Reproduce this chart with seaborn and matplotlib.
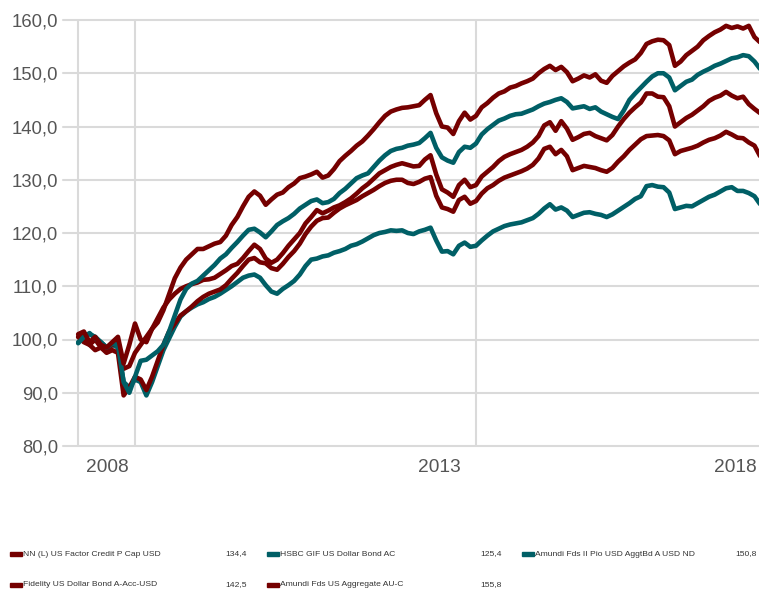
import numpy as np
import pandas as pd
import matplotlib.pyplot as plt
import seaborn as sns
from matplotlib.patches import Rectangle

# Fondos: valores base 100, muestreo mensual desde marzo 2007
start_month = "2007-03-01"

amundi_us_agg = [
    101, 101.5, 99.5, 100.5, 99, 98.5, 99.5, 100.5, 95.5, 99,
    103, 100, 99.5, 102, 103.2, 105.5, 108.5, 111.5, 113.5, 115,
    116, 117, 117, 117.5, 118, 118.3, 119.5, 121.5, 123, 125,
    126.8, 127.8, 127, 125.3, 126.3, 127.2, 127.6, 128.6, 129.3, 130.3,
    130.6, 131, 131.5, 130.4, 130.8, 132, 133.5, 134.5, 135.4, 136.4,
    137.2, 138.3, 139.5, 140.8, 142, 142.8, 143.2, 143.5, 143.6, 143.8,
    144, 145, 145.9, 142.5, 140, 139.8, 138.6, 141, 142.6, 141.3,
    142, 143.6, 144.4, 145.4, 146.2, 146.6, 147.3, 147.6, 148.1, 148.5,
    149, 150, 150.8, 151.4, 150.6, 151.2, 150.2, 148.5, 149, 149.6,
    149.2, 149.8, 148.6, 148.2, 149.5, 150.4, 151.3, 152, 152.6, 153.8,
    155.5, 156, 156.3, 156.2, 155.3, 151.4, 152.2, 153.4, 154.2, 155,
    156.2, 157, 157.7, 158.2, 158.9, 158.5, 158.8, 158.4, 158.9, 156.8,
    155.8,
]

amundi_ii = [
    99.3, 100.5, 101.2, 100.2, 99.5, 98.5, 99.2, 99, 92, 90,
    93, 96, 96.2, 97, 97.8, 99, 101.5, 104.5, 107.5, 109.5,
    110.5, 111, 112, 113, 114, 115.2, 116, 117.2, 118.3, 119.5,
    120.6, 120.8, 120.1, 119.2, 120.3, 121.5, 122.2, 122.8, 123.6, 124.6,
    125.3, 126, 126.3, 125.6, 125.8, 126.4, 127.5, 128.3, 129.3, 130.3,
    130.8, 131.2, 132.4, 133.6, 134.6, 135.4, 135.8, 136, 136.4, 136.6,
    136.9, 137.8, 138.8, 136, 134.2, 133.6, 133.2, 135.2, 136.2, 136,
    136.8, 138.5, 139.5, 140.3, 141.1, 141.5, 142, 142.3, 142.4, 142.8,
    143.2, 143.8, 144.3, 144.6, 145, 145.3, 144.6, 143.4, 143.6, 143.8,
    143.3, 143.6, 142.8, 142.3, 141.8, 141.4, 143, 145, 146.2, 147.3,
    148.4, 149.4, 150, 150, 149.2, 146.8, 147.6, 148.4, 148.8, 149.7,
    150.3, 150.8, 151.4, 151.8, 152.3, 152.8, 153, 153.4, 153.2, 152.2,
    150.8,
]

fidelity = [
    100.5, 101, 99, 100, 98.5, 98, 99, 99.5, 94.5, 95,
    97.5, 99, 100.5, 102, 104, 106, 107.5, 108.6, 109.5, 110,
    110.4, 110.7, 111.2, 111.3, 111.6, 112.3, 113, 113.8, 114.2, 115.3,
    116.6, 117.8, 117, 115.2, 114.4, 115, 116.2, 117.6, 118.8, 120,
    121.8, 123, 124.3, 123.7, 124.2, 124.8, 125.2, 125.8, 126.5, 127.4,
    128.4, 129.2, 130.2, 131.2, 131.8, 132.4, 132.8, 133.1, 132.8, 132.5,
    132.6, 133.8, 134.6, 131, 128.2, 127.6, 126.8, 129, 130, 128.6,
    129, 130.6, 131.5, 132.4, 133.5, 134.3, 134.8, 135.2, 135.6, 136.2,
    137, 138.2, 140.2, 140.8, 139.2, 141, 139.6, 137.5, 138, 138.6,
    138.8, 138.2, 137.8, 137.4, 138.4, 140, 141.4, 142.6, 143.6, 144.5,
    146.2, 146.2, 145.6, 145.5, 143.8, 140, 140.8, 141.6, 142.2, 143,
    143.8, 144.8, 145.4, 145.8, 146.5, 145.8, 145.3, 145.6, 144.2, 143.3,
    142.5,
]

nn_credit = [
    100.5, 99.5, 99, 98, 98.5, 97.5, 98, 97.5, 89.5, 91,
    93, 92.5, 90.5, 93, 96, 99, 101.5, 103, 104.5, 105.3,
    106.2, 107.2, 108, 108.6, 109, 109.4, 110.2, 111.4, 112.5, 113.8,
    115, 115.3, 114.5, 114.3, 113.4, 113.1, 114.2, 115.5, 116.6, 118,
    119.8, 121.2, 122.3, 122.8, 122.9, 123.8, 124.6, 125.2, 125.7, 126.2,
    126.9, 127.5, 128.1, 128.8, 129.4, 129.8, 130, 130, 129.4, 129.2,
    129.6, 130.2, 130.5, 127, 124.8, 124.5, 124, 126.2, 126.8, 125.5,
    126, 127.4, 128.4, 129, 129.8, 130.4, 130.8, 131.2, 131.6, 132.1,
    132.8, 134, 135.8, 136.2, 134.8, 135.6, 134.4, 131.8, 132.2, 132.6,
    132.4, 132.2, 131.8, 131.5, 132.2, 133.4, 134.4, 135.6, 136.6, 137.6,
    138.2, 138.3, 138.4, 138.2, 137.4, 134.8, 135.4, 135.7, 136, 136.4,
    137, 137.5, 137.8, 138.3, 139, 138.5, 137.9, 137.8, 137, 136.4,
    134.4,
]

hsbc = [
    99.5, 100.5, 101, 100.5, 99.5, 98.5, 99, 98.5, 92, 91,
    92.5, 92, 89.5, 92, 95, 98, 100.2, 102.4, 104.3, 105.3,
    106, 106.6, 107, 107.6, 108, 108.6, 109.3, 110, 110.8, 111.6,
    112, 112.2, 111.6, 110.2, 109, 108.6, 109.5, 110.2, 111, 112.2,
    113.8, 115, 115.2, 115.6, 115.8, 116.3, 116.6, 117, 117.6, 117.9,
    118.4, 119, 119.6, 120, 120.2, 120.5, 120.4, 120.5, 120, 119.8,
    120.3, 120.6, 121, 118.6, 116.5, 116.6, 116, 117.6, 118.2, 117.4,
    117.6, 118.6, 119.5, 120.3, 120.8, 121.3, 121.6, 121.8, 122, 122.4,
    122.8, 123.6, 124.6, 125.4, 124.4, 124.8, 124.2, 123, 123.4, 123.8,
    123.9, 123.6, 123.4, 123, 123.5, 124.2, 124.9, 125.6, 126.4, 126.9,
    128.8, 129, 128.7, 128.6, 127.6, 124.5, 124.8, 125.1, 125, 125.6,
    126.2, 126.8, 127.2, 127.8, 128.4, 128.6, 127.9, 127.9, 127.5, 126.9,
    125.4,
]

red = "#750000"
teal = "#005f66"

series = {
    "NN (L) US Factor Credit P Cap USD": (nn_credit, red),
    "HSBC GIF US Dollar Bond AC": (hsbc, teal),
    "Amundi Fds II Pio USD AggtBd A USD ND": (amundi_ii, teal),
    "Fidelity US Dollar Bond A-Acc-USD": (fidelity, red),
    "Amundi Fds US Aggregate AU-C": (amundi_us_agg, red),
}
legend_values = ["134,4", "125,4", "150,8", "142,5", "155,8"]

yticks = [80, 90, 100, 110, 120, 130, 140, 150, 160]
ytick_labels = ["80,0", "90,0", "100,0", "110,0", "120,0", "130,0", "140,0", "150,0", "160,0"]
xgrid_pos = [2007 + 2 / 12, 2008, 2013]
xlabel_pos = [2007.6, 2012.47, 2016.8]
xlabel_text = ["2008", "2013", "2018"]

dates = pd.date_range(start_month, periods=len(nn_credit), freq="MS")
xyear = dates.year + (dates.month - 1) / 12

frames = []
for name, (vals, col) in series.items():
    frames.append(pd.DataFrame({"x": xyear, "valor": vals, "fondo": name}))
df = pd.concat(frames, ignore_index=True)
palette = {name: col for name, (vals, col) in series.items()}

sns.set_style("white")
plt.rcParams["font.family"] = ["Liberation Sans", "DejaVu Sans"]

fig = plt.figure(figsize=(7.59, 5.89), dpi=100)
ax = fig.add_axes([63 / 759, 143 / 589, 696 / 759, 426 / 589])

# dibujar el más alto al final
order = ["HSBC GIF US Dollar Bond AC", "NN (L) US Factor Credit P Cap USD",
         "Fidelity US Dollar Bond A-Acc-USD", "Amundi Fds II Pio USD AggtBd A USD ND",
         "Amundi Fds US Aggregate AU-C"]
sns.lineplot(data=df, x="x", y="valor", hue="fondo", hue_order=order, palette=palette,
             linewidth=3.3, legend=False, estimator=None, sort=False, ax=ax)

ax.set_xlim(2008 - 72 / 68.2, 2008 + 624 / 68.2)
ax.set_ylim(80, 160)
for s in ax.spines.values():
    s.set_visible(False)

grid_col = "#dadada"
ax.set_yticks(yticks)
ax.set_yticklabels(ytick_labels)
ax.tick_params(axis="y", length=0, pad=3.6, labelsize=13.3, labelcolor="#555555")

ax.set_xticks(xgrid_pos)
ax.set_xticklabels(["", "", ""])
ax.set_xticks(xlabel_pos, minor=True)
ax.set_xticklabels(xlabel_text, minor=True)
ax.tick_params(axis="x", which="major", length=11, width=1.5, color=grid_col, direction="out")
ax.tick_params(axis="x", which="minor", length=0, pad=9.5, labelsize=13.8, labelcolor="#555555")

ax.grid(True, axis="both", which="major", color=grid_col, linewidth=1.5)
ax.set_axisbelow(True)
for gl in ax.get_ygridlines():
    gl.set_clip_on(False)
ax.set_xlabel("")
ax.set_ylabel("")

# leyenda manual en la parte inferior
W, H = 759, 589
marker_x = [10, 267, 522, 10, 267]
value_x = [247, 502, 757, 247, 502]
row_y = [554, 554, 554, 585, 585]
for (name, (vals, col)), mx, vx, ry, val in zip(series.items(), marker_x, value_x, row_y, legend_values):
    fig.patches.append(Rectangle((mx / W, 1 - (ry + 2) / H), 12 / W, 4 / H,
                                 transform=fig.transFigure, color=col, figure=fig))
    fig.text((mx + 13) / W, 1 - ry / H, name, fontsize=6.1, color="#333333", va="center", ha="left")
    fig.text(vx / W, 1 - ry / H, val, fontsize=6.1, color="#333333", va="center", ha="right")

fig.savefig("out.png", dpi=100)
